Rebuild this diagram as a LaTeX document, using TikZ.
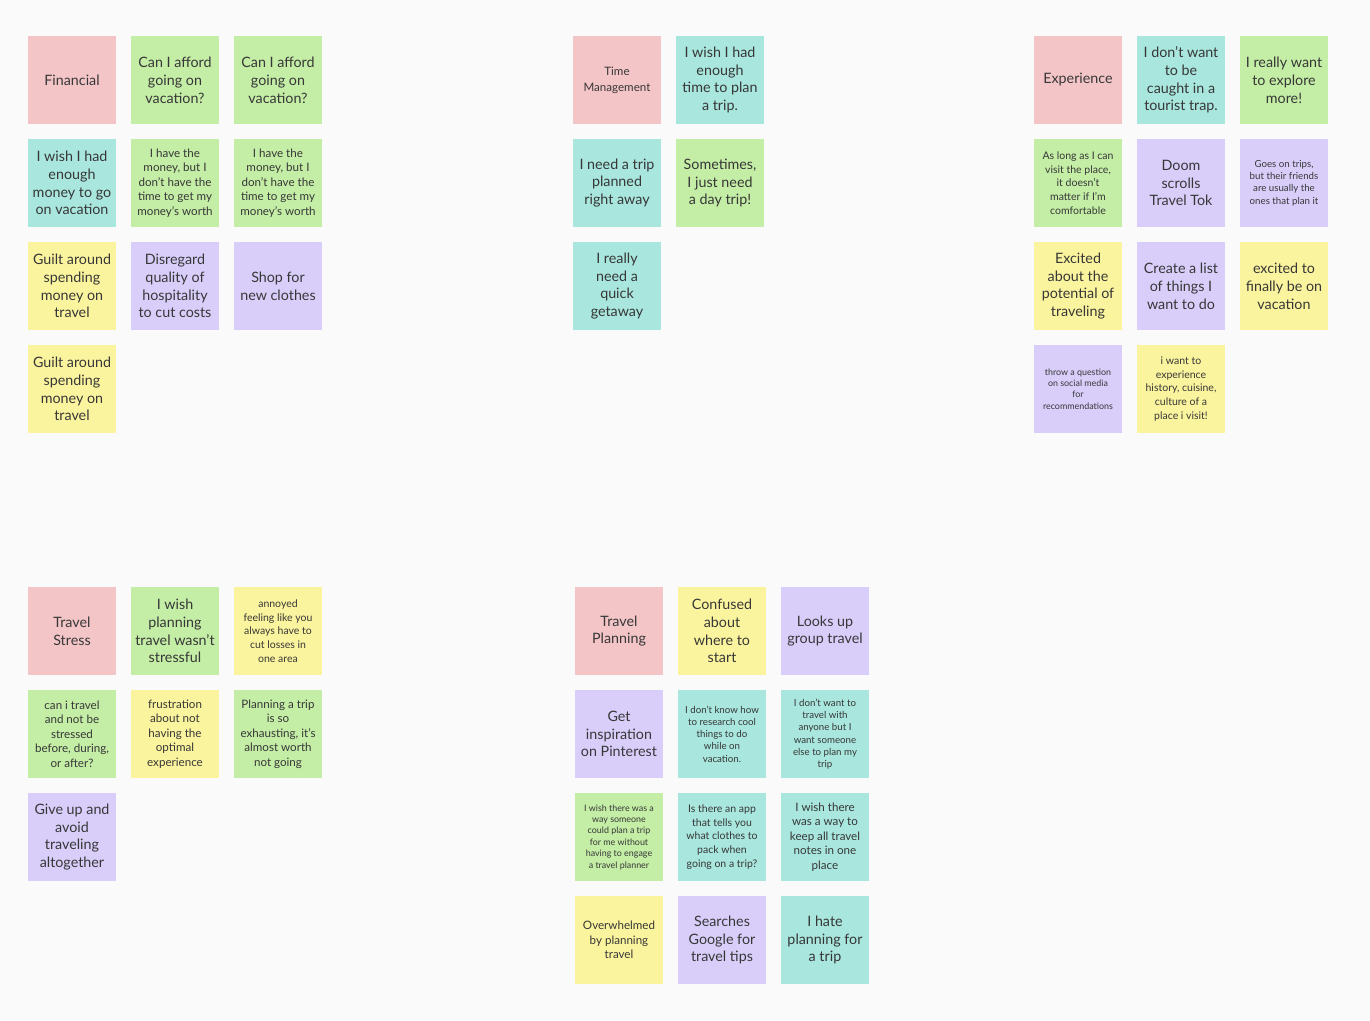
\documentclass[tikz,border=0pt]{standalone}
\usepackage{fontspec}
\setmainfont{Lato}
\definecolor{bgc}{RGB}{250,250,250}
\definecolor{ink}{RGB}{55,55,55}
\definecolor{cpink}{RGB}{243,197,199}
\definecolor{cgreen}{RGB}{196,237,166}
\definecolor{cteal}{RGB}{168,230,222}
\definecolor{cyellow}{RGB}{251,244,158}
\definecolor{cpurple}{RGB}{217,206,250}
\tikzset{
  note/.style={minimum width=88pt, minimum height=88pt, inner sep=0pt, align=center, text=ink},
  pinkn/.style={note, fill=cpink},
  greenn/.style={note, fill=cgreen},
  tealn/.style={note, fill=cteal},
  yellown/.style={note, fill=cyellow},
  purplen/.style={note, fill=cpurple},
  bigt/.style={font=\fontsize{14.3}{17.8}\selectfont},
  midt/.style={font=\fontsize{11.6}{14.5}\selectfont},
  smallt/.style={font=\fontsize{10.5}{13.6}\selectfont},
  tinyt/.style={font=\fontsize{9.7}{12.3}\selectfont},
  xtinyt/.style={font=\fontsize{8.9}{11.4}\selectfont}
}
\begin{document}
\begin{tikzpicture}[x=1pt,y=-1pt]
\fill[bgc] (0,0) rectangle (1370,1020);
\useasboundingbox (0,0) rectangle (1370,1020);
% Cluster 1: Financial
\node[pinkn,bigt] (f1) at (72,80) {Financial};
\node[greenn,bigt] (f2) at (175,80) {Can I afford\\going on\\vacation?};
\node[greenn,bigt] (f3) at (278,80) {Can I afford\\going on\\vacation?};
\node[tealn,bigt] (f4) at (72,183) {I wish I had\\enough\\money to go\\on vacation};
\node[greenn,midt] (f5) at (175,183) {I have the\\money, but I\\don't have the\\time to get my\\money's worth};
\node[greenn,midt] (f6) at (278,183) {I have the\\money, but I\\don't have the\\time to get my\\money's worth};
\node[yellown,bigt] (f7) at (72,286) {Guilt around\\spending\\money on\\travel};
\node[purplen,bigt] (f8) at (175,286) {Disregard\\quality of\\hospitality\\to cut costs};
\node[purplen,bigt] (f9) at (278,286) {Shop for\\new clothes};
\node[yellown,bigt] (f10) at (72,389) {Guilt around\\spending\\money on\\travel};
% Cluster 2: Time Management
\node[pinkn,font=\fontsize{11.6}{16}\selectfont] (t1) at (617,80) {Time\\Management};
\node[tealn,bigt] (t2) at (720,80) {I wish I had\\enough\\time to plan\\a trip.};
\node[tealn,bigt] (t3) at (617,183) {I need a trip\\planned\\right away};
\node[greenn,bigt] (t4) at (720,183) {Sometimes,\\I just need\\a day trip!};
\node[tealn,bigt] (t5) at (617,286) {I really\\need a\\quick\\getaway};
% Cluster 3: Experience
\node[pinkn,bigt] (e1) at (1078,80) {Experience};
\node[tealn,bigt] (e2) at (1181,80) {I don't want\\to be\\caught in a\\tourist trap.};
\node[greenn,bigt] (e3) at (1284,80) {I really want\\to explore\\more!};
\node[greenn,smallt] (e4) at (1078,183) {As long as I can\\visit the place,\\it doesn't\\matter if I'm\\comfortable};
\node[purplen,bigt] (e5) at (1181,183) {Doom\\scrolls\\Travel Tok};
\node[purplen,tinyt] (e6) at (1284,183) {Goes on trips,\\but their friends\\are usually the\\ones that plan it};
\node[yellown,bigt] (e7) at (1078,286) {Excited\\about the\\potential of\\traveling};
\node[purplen,bigt] (e8) at (1181,286) {Create a list\\of things I\\want to do};
\node[yellown,bigt] (e9) at (1284,286) {excited to\\finally be on\\vacation};
\node[purplen,xtinyt] (e10) at (1078,389) {throw a question\\on social media\\for\\recommendations};
\node[yellown,smallt] (e11) at (1181,389) {i want to\\experience\\history, cuisine,\\culture of a\\place i visit!};
% Cluster 4: Travel Stress
\node[pinkn,bigt] (s1) at (72,631) {Travel\\Stress};
\node[greenn,bigt] (s2) at (175,631) {I wish\\planning\\travel wasn't\\stressful};
\node[yellown,smallt] (s3) at (278,631) {annoyed\\feeling like you\\always have to\\cut losses in\\one area};
\node[greenn,midt] (s4) at (72,734) {can i travel\\and not be\\stressed\\before, during,\\or after?};
\node[yellown,midt] (s5) at (175,734) {frustration\\about not\\having the\\optimal\\experience};
\node[greenn,midt] (s6) at (278,734) {Planning a trip\\is so\\exhausting, it's\\almost worth\\not going};
\node[purplen,bigt] (s7) at (72,837) {Give up and\\avoid\\traveling\\altogether};
% Cluster 5: Travel Planning
\node[pinkn,bigt] (p1) at (619,631) {Travel\\Planning};
\node[yellown,bigt] (p2) at (722,631) {Confused\\about\\where to\\start};
\node[purplen,bigt] (p3) at (825,631) {Looks up\\group travel};
\node[purplen,bigt] (p4) at (619,734) {Get\\inspiration\\on Pinterest};
\node[tealn,tinyt] (p5) at (722,734) {I don't know how\\to research cool\\things to do\\while on\\vacation.};
\node[tealn,tinyt] (p6) at (825,734) {I don't want to\\travel with\\anyone but I\\want someone\\else to plan my\\trip};
\node[greenn,xtinyt] (p7) at (619,837) {I wish there was a\\way someone\\could plan a trip\\for me without\\having to engage\\a travel planner};
\node[tealn,smallt] (p8) at (722,837) {Is there an app\\that tells you\\what clothes to\\pack when\\going on a trip?};
\node[tealn,midt] (p9) at (825,837) {I wish there\\was a way to\\keep all travel\\notes in one\\place};
\node[yellown,midt] (p10) at (619,940) {Overwhelmed\\by planning\\travel};
\node[purplen,bigt] (p11) at (722,940) {Searches\\Google for\\travel tips};
\node[tealn,bigt] (p12) at (825,940) {I hate\\planning for\\a trip};
\end{tikzpicture}
\end{document}
